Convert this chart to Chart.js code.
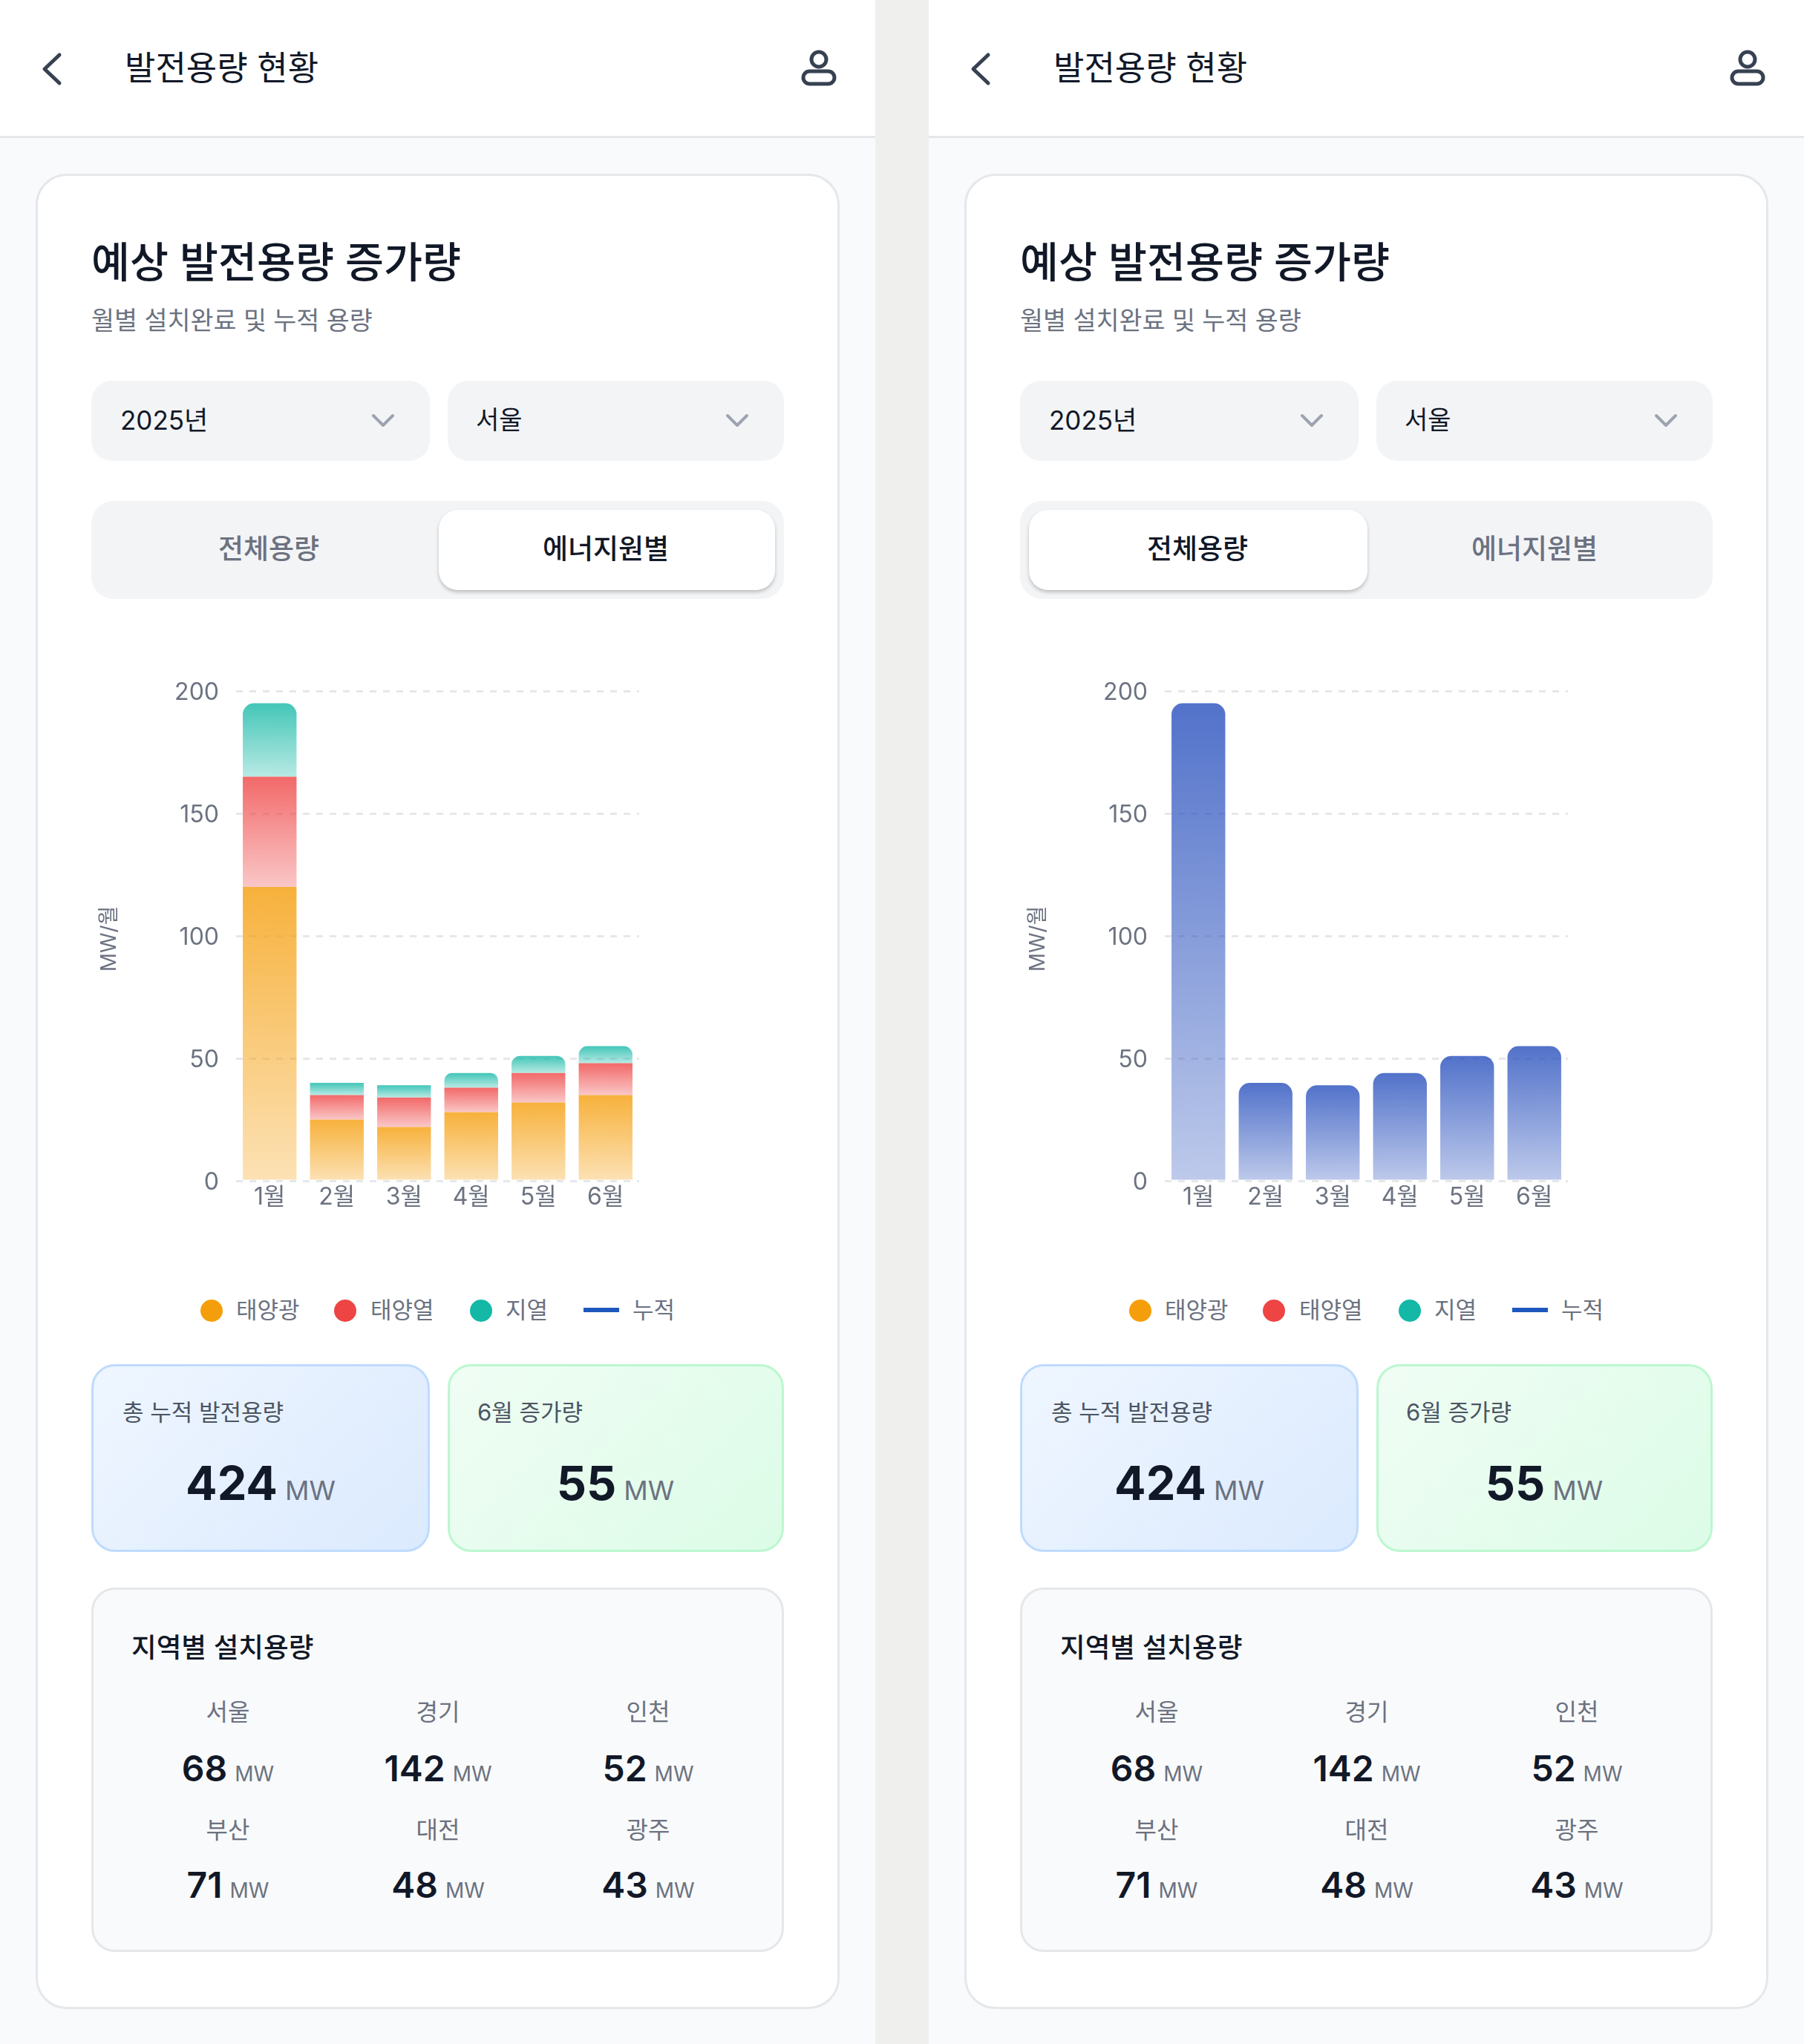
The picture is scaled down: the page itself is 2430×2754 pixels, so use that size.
<!DOCTYPE html>
<html lang="ko">
<head>
<meta charset="utf-8">
<title>발전용량 현황</title>
<script src="https://cdn.jsdelivr.net/npm/chart.js@4"></script>
<style>
    html, body { margin: 0; padding: 0; }
    body {
        width: 2430px; height: 2754px; position: relative; overflow: hidden;
        background: #efefed; font-family: Inter, "Noto Sans CJK KR", sans-serif; color: #111827;
    }
    .panel { position: absolute; top: 0; width: 1179px; height: 2754px; background: #f9fafb; overflow: hidden; }
    .header { position: absolute; left: 0; top: 0; width: 100%; height: 183px; background: #fff; border-bottom: 3px solid #e5e7eb; }
    .card { position: absolute; left: 48px; top: 234px; width: 1077px; height: 2467px; background: #fff; border: 3px solid #e5e7eb; border-radius: 42px; }
    .box { position: absolute; box-sizing: border-box; }
    .select { background: #f3f4f6; border-radius: 28px; }
    .tabs { background: #f3f4f6; border-radius: 30px; }
    .tab-on { background: #fff; border-radius: 26px; box-shadow: 0 3px 5px rgba(0,0,0,0.22); }
    .stat-blue { border: 3px solid #bfdbfe; border-radius: 32px; background: linear-gradient(135deg, #eff6ff, #dbeafe); }
    .stat-green { border: 3px solid #bbf7d0; border-radius: 32px; background: linear-gradient(135deg, #f0fdf4, #dcfce7); }
    .regions { border: 3px solid #e5e7eb; border-radius: 32px; background: #f9fafb; }
    .t { position: absolute; white-space: nowrap; line-height: 1; transform: translateY(-50%); }
    .c { transform: translate(-50%, -50%); }
    .unit { color: #6b7280; font-weight: 400; margin-left: 10px; }
    svg { position: absolute; overflow: visible; fill: none; stroke-linecap: round; stroke-linejoin: round; }
    canvas { position: absolute; left: 123px; top: 880px; }
    .dot { position: absolute; width: 30px; height: 30px; border-radius: 50%; transform: translate(-50%, -50%); }
    .dash { position: absolute; width: 48px; height: 6px; transform: translateY(-50%); }
</style>
</head>
<body>
<script>
/* ===========================
   DATA
=========================== */

const months = ["1월", "2월", "3월", "4월", "5월", "6월"];

const solar = [120, 25, 22, 28, 32, 35];
const thermal = [45, 10, 12, 10, 12, 13];
const geo = [30, 5, 5, 6, 7, 7];
const totals = [195, 40, 39, 44, 51, 55];

const yTicks = [0, 50, 100, 150, 200];

const legendNames = ["태양광", "태양열", "지열", "누적"];

const regionNames = ["서울", "경기", "인천", "부산", "대전", "광주"];
const regionValues = [68, 142, 52, 71, 48, 43];

const totalCapacity = 424;
const juneIncrease = 55;

/* ===========================
   HELPERS
=========================== */

function text(parent, str, x, y, size, color, weight, center) {
    const el = document.createElement("div");
    el.className = center ? "t c" : "t";
    el.style.cssText = `left:${x}px;top:${y}px;font-size:${size}px;color:${color};font-weight:${weight};`;
    el.innerHTML = str;
    parent.appendChild(el);
    return el;
}

function box(parent, cls, x, y, w, h) {
    const el = document.createElement("div");
    el.className = "box " + cls;
    el.style.cssText = `left:${x}px;top:${y}px;width:${w}px;height:${h}px;`;
    parent.appendChild(el);
}

function icon(parent, markup) {
    parent.insertAdjacentHTML("beforeend",
        `<svg width="1" height="1" style="left:0;top:0">${markup}</svg>`);
}

// gradient for one stacked segment, from its top edge to its bottom edge
function segmentFill(rgb, ctx, before) {
    const chart = ctx.chart;
    if (!chart.chartArea || ctx.dataIndex === undefined) return `rgba(${rgb},0.8)`;
    const y = chart.scales.y;
    const start = before[ctx.dataIndex];
    const end = start + ctx.dataset.data[ctx.dataIndex];
    const g = chart.ctx.createLinearGradient(0, y.getPixelForValue(end), 0, y.getPixelForValue(start));
    g.addColorStop(0, `rgba(${rgb},0.8)`);
    g.addColorStop(1, `rgba(${rgb},0.3)`);
    return g;
}

function makeChart(canvas, datasets) {
    new Chart(canvas, {
        type: "bar",
        data: { labels: months, datasets: datasets },
        options: {
            responsive: false,
            animation: false,
            devicePixelRatio: 1,
            layout: { padding: { top: 51, right: 9, left: 0, bottom: 0 } },
            plugins: { legend: { display: false }, tooltip: { enabled: false } },
            datasets: { bar: { barPercentage: 0.8, categoryPercentage: 1 } },
            scales: {
                x: {
                    stacked: true,
                    grid: { display: false, drawTicks: false },
                    border: { display: false },
                    ticks: { color: "#6b7280", padding: 3, font: { size: 32, family: "Inter, 'Noto Sans CJK KR'" } },
                    afterFit: (s) => { s.height = 59; }
                },
                y: {
                    stacked: true,
                    min: yTicks[0],
                    max: yTicks[yTicks.length - 1],
                    grid: { color: "#e5e7eb", lineWidth: 3, drawTicks: false },
                    border: { display: false, dash: [9, 9] },
                    ticks: {
                        stepSize: yTicks[1] - yTicks[0],
                        color: "#6b7280",
                        padding: 23,
                        labelOffset: 2,
                        font: { size: 32, family: "Inter, 'Noto Sans CJK KR'" }
                    },
                    title: {
                        display: true,
                        text: "MW/월 ",
                        color: "#6b7280",
                        padding: { top: 8, bottom: 0 },
                        font: { size: 28, family: "Inter, 'Noto Sans CJK KR'" }
                    },
                    afterFit: (s) => { s.width = 195; }
                }
            }
        }
    });
}

const topRadius = (ctx) => {
    const small = ctx.dataset.data[ctx.dataIndex] <= 5;
    const r = small ? 0 : 15;
    return { topLeft: r, topRight: r, bottomLeft: 0, bottomRight: 0 };
};

const noBase = months.map(() => 0);

const stackedSets = [
    { label: legendNames[0], data: solar, backgroundColor: (c) => segmentFill("245,158,11", c, noBase) },
    { label: legendNames[1], data: thermal, backgroundColor: (c) => segmentFill("239,68,68", c, solar) },
    { label: legendNames[2], data: geo, borderRadius: topRadius, borderSkipped: false,
      backgroundColor: (c) => segmentFill("20,184,166", c, solar.map((v, i) => v + thermal[i])) }
];

const totalSets = [
    { label: "전체", data: totals, borderRadius: (c) => ({ topLeft: 15, topRight: 15, bottomLeft: 0, bottomRight: 0 }), borderSkipped: false,
      backgroundColor: (c) => segmentFill("39,79,189", c, noBase) }
];

/* ===========================
   PANELS
=========================== */

function buildPanel(left, byEnergy, datasets) {
    const p = document.createElement("div");
    p.className = "panel";
    p.style.left = left + "px";
    document.body.appendChild(p);

    // header
    const head = document.createElement("div");
    head.className = "header";
    p.appendChild(head);
    text(p, "발전용량 현황", 168, 91, 45, "#111827", 400);
    icon(p, `<path d="M80 74 L60 93 L80 112" stroke="#374151" stroke-width="5"/>
        <circle cx="1103" cy="80" r="10" stroke="#374151" stroke-width="5"/>
        <rect x="1082" y="96" width="42" height="17" rx="8.5" stroke="#374151" stroke-width="5"/>`);

    // card
    const card = document.createElement("div");
    card.className = "card";
    p.appendChild(card);
    text(p, "예상 발전용량 증가량", 123, 354, 56.5, "#111827", 500);
    text(p, "월별 설치완료 및 누적 용량", 123, 432, 33.7, "#6b7280", 400);

    // selects
    box(p, "select", 123, 513, 456, 108);
    box(p, "select", 603, 513, 453, 108);
    text(p, "2025년", 162, 566, 35, "#111827", 400);
    text(p, "서울", 641, 566, 34, "#111827", 400);
    icon(p, `<path d="M503 560 L516 573 L529 560" stroke="#9ca3af" stroke-width="4"/>
        <path d="M980 560 L993 573 L1006 560" stroke="#9ca3af" stroke-width="4"/>`);

    // tabs
    box(p, "tabs", 123, 675, 933, 132);
    box(p, "tab-on", byEnergy ? 591 : 135, 687, byEnergy ? 453 : 456, 108);
    text(p, "전체용량", 362, 739, 37, byEnergy ? "#6b7280" : "#111827", 500, true);
    text(p, "에너지원별", 816, 739, 37, byEnergy ? "#111827" : "#6b7280", 500, true);

    // chart
    const canvas = document.createElement("canvas");
    canvas.width = 747;
    canvas.height = 770;
    p.appendChild(canvas);
    makeChart(canvas, datasets);

    // legend
    const dotX = [285, 465, 648];
    const dotColor = ["#f59e0b", "#ef4444", "#14b8a6"];
    const labelX = [318, 499, 681, 852];
    dotX.forEach((x, i) => {
        p.insertAdjacentHTML("beforeend", `<div class="dot" style="left:${x}px;top:1766px;background:${dotColor[i]}"></div>`);
    });
    p.insertAdjacentHTML("beforeend", `<div class="dash" style="left:786px;top:1765px;background:#1e58be"></div>`);
    legendNames.forEach((name, i) => text(p, name, labelX[i], 1764, 31, "#6b7280", 400));

    // stat cards
    box(p, "stat-blue", 123, 1838, 456, 253);
    box(p, "stat-green", 603, 1838, 453, 253);
    text(p, "총 누적 발전용량", 165, 1902, 31, "#4b5563", 400);
    text(p, "6월 증가량", 643, 1902, 31, "#4b5563", 400);
    text(p, `${totalCapacity}<span class="unit" style="font-size:36px">MW</span>`, 351, 1998, 63, "#111827", 700, true);
    text(p, `${juneIncrease}<span class="unit" style="font-size:36px">MW</span>`, 829, 1998, 63, "#111827", 700, true);

    // regions
    box(p, "regions", 123, 2139, 933, 491);
    text(p, "지역별 설치용량", 177, 2220, 36.6, "#111827", 500);
    const colX = [307, 590, 873];
    const labelY = [2307, 2466];
    const valueY = [2383, 2540];
    regionNames.forEach((name, i) => {
        const col = i % 3, row = Math.floor(i / 3);
        text(p, name, colX[col], labelY[row], 32, "#6b7280", 400, true);
        text(p, `${regionValues[i]}<span class="unit" style="font-size:28px">MW</span>`, colX[col], valueY[row], 48, "#111827", 600, true);
    });
}

buildPanel(0, true, stackedSets);
buildPanel(1251, false, totalSets);
</script>
</body>
</html>
